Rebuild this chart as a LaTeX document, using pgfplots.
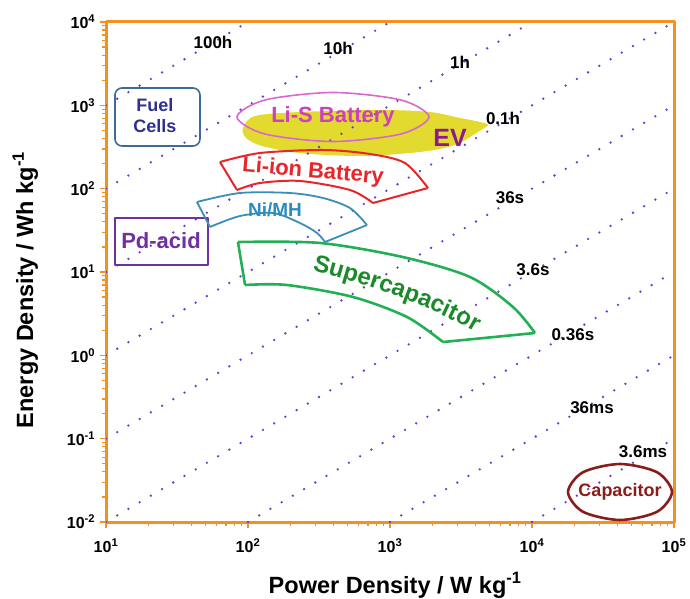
\documentclass[border=0pt]{standalone}
\usepackage{pgfplots}
\pgfplotsset{compat=1.18}
\usetikzlibrary{decorations.text}
\usepackage{fontspec}
\setmainfont{Liberation Sans}
\definecolor{axorange}{HTML}{F39020}
\definecolor{dotc}{HTML}{6A3CCC}
\definecolor{fuelc}{HTML}{3D6A9A}
\definecolor{fueltxt}{HTML}{2E3192}
\definecolor{lisc}{HTML}{D868D0}
\definecolor{listxt}{HTML}{CC3FC0}
\definecolor{evc}{HTML}{E2DA2E}
\definecolor{evtxt}{HTML}{8E1B8E}
\definecolor{lionc}{HTML}{E8262A}
\definecolor{nimhc}{HTML}{3A8EB8}
\definecolor{nimhtxt}{HTML}{2C8CC0}
\definecolor{supc}{HTML}{22B055}
\definecolor{suptxt}{HTML}{1A8A2A}
\definecolor{pdc}{HTML}{7030A0}
\definecolor{capc}{HTML}{8B1C1C}
\newcommand{\fs}[1]{\fontsize{#1}{#1}\selectfont\bfseries}
\begin{document}
\begin{tikzpicture}
\begin{axis}[
  scale only axis, width=568pt, height=500pt,
  xmode=log, ymode=log,
  xmin=10, xmax=100000, ymin=0.01, ymax=10000,
  every axis/.append style={line width=3pt},
  axis line style={axorange, line width=3pt},
  tick pos=left, tick align=outside,
  major tick length=6pt, minor tick length=4pt,
  every major tick/.style={axorange, line width=1.6pt},
  every minor tick/.style={axorange, line width=1.2pt},
  xtick={10,100,1000,10000,100000},
  xticklabels={10\textsuperscript{1},10\textsuperscript{2},10\textsuperscript{3},10\textsuperscript{4},10\textsuperscript{5}},
  ytick={0.01,0.1,1,10,100,1000,10000},
  yticklabels={10\textsuperscript{-2},10\textsuperscript{-1},10\textsuperscript{0},10\textsuperscript{1},10\textsuperscript{2},10\textsuperscript{3},10\textsuperscript{4}},
  minor xtick={20,30,40,50,60,70,80,90,200,300,400,500,600,700,800,900,2000,3000,4000,5000,6000,7000,8000,9000,20000,30000,40000,50000,60000,70000,80000,90000},
  minor ytick={0.02,0.03,0.04,0.05,0.06,0.07,0.08,0.09,0.2,0.3,0.4,0.5,0.6,0.7,0.8,0.9,2,3,4,5,6,7,8,9,20,30,40,50,60,70,80,90,200,300,400,500,600,700,800,900,2000,3000,4000,5000,6000,7000,8000,9000},
  ticklabel style={font=\fs{16}},
  xticklabel style={yshift=-6pt},
  xlabel={Power Density / W kg\textsuperscript{-1}},
  ylabel={Energy Density / Wh kg\textsuperscript{-1}},
  label style={font=\fs{23.5}},
  xlabel style={at={(axis description cs:0.509,-0.142)}, anchor=base},
  ylabel style={at={(axis description cs:-0.1285,0.464)}, anchor=base},
  line join=round,
]
% EV region
\addplot[fill=evc, draw=none, smooth cycle] coordinates {(92.2,534.6) (112.0,744.7) (232.4,831.8) (850.4,879) (1912,831.8) (3112,704.7) (4303,631) (4899,580.8) (4166,478.6) (2869,334.2) (1627,275.4) (614.9,246.6) (232.4,267.9) (125.5,325.1) (96.8,405.5)};
% constant-time lines
\addplot[dotc, line width=2.6pt, line cap=round, dash pattern=on 0pt off 13pt] coordinates {(10,1000) (100,10000)};
\addplot[dotc, line width=2.6pt, line cap=round, dash pattern=on 0pt off 13pt] coordinates {(10,100) (1000,10000)};
\addplot[dotc, line width=2.6pt, line cap=round, dash pattern=on 0pt off 13pt] coordinates {(10,10) (10000,10000)};
\addplot[dotc, line width=2.6pt, line cap=round, dash pattern=on 0pt off 13pt] coordinates {(10,1) (100000,10000)};
\addplot[dotc, line width=2.6pt, line cap=round, dash pattern=on 0pt off 13pt] coordinates {(10,0.1) (100000,1000)};
\addplot[dotc, line width=2.6pt, line cap=round, dash pattern=on 0pt off 13pt] coordinates {(10,0.01) (100000,100)};
\addplot[dotc, line width=2.6pt, line cap=round, dash pattern=on 0pt off 13pt] coordinates {(100,0.01) (100000,10)};
\addplot[dotc, line width=2.6pt, line cap=round, dash pattern=on 0pt off 13pt] coordinates {(1000,0.01) (100000,1)};
\addplot[dotc, line width=2.6pt, line cap=round, dash pattern=on 0pt off 13pt] coordinates {(10000,0.01) (100000,0.1)};
% Fuel cells
\addplot[draw=fuelc, line width=1.6pt, rounded corners=7pt] coordinates {(11.57,1614) (45.9,1614) (45.9,325) (11.57,325)} -- cycle;
% Pd-acid
\addplot[draw=pdc, line width=2.6pt] coordinates {(11.57,44.46) (52.28,44.46) (52.28,12.13) (11.57,12.13)} -- cycle;
% Li-S ellipse
\addplot[draw=lisc, line width=1.6pt, smooth cycle] coordinates {(1882,724.4) (1195,1159) (396.9,1426) (131.7,1159) (83.6,724.4) (131.7,452.9) (396.9,368.1) (1195,452.9)};
% Li-ion
\addplot[draw=lionc, line width=2pt, smooth] coordinates {(63.5,208.9) (121.5,267.9) (337.5,291.1) (723.1,260.6) (1275,203.2) (1851,101.9)};
\addplot[draw=lionc, line width=2pt] coordinates {(1851,101.9) (759.2,67.3)};
\addplot[draw=lionc, line width=2pt, smooth] coordinates {(759.2,67.3) (522.8,96.4) (232.4,123.6) (121.5,117.0) (83.6,96.4)};
\addplot[draw=lionc, line width=2pt] coordinates {(83.6,96.4) (63.5,208.9)};
% Ni/MH
\addplot[draw=nimhc, line width=1.8pt, smooth] coordinates {(43.7,69.2) (87.8,88.7) (197.6,88.7) (337.5,77.3) (522.8,58.6) (688.7,36.6)};
\addplot[draw=nimhc, line width=1.8pt] coordinates {(688.7,36.6) (348.6,22.9)};
\addplot[draw=nimhc, line width=1.8pt, smooth] coordinates {(348.6,22.9) (306.1,29.4) (232.4,38.7) (150.0,51.05) (87.8,47.0) (54.0,34.7)};
\addplot[draw=nimhc, line width=1.8pt] coordinates {(54.0,34.7) (43.7,69.2)};
% Supercapacitor
\addplot[draw=supc, line width=2.6pt, smooth] coordinates {(85.0,22.9) (321.4,22.3) (1235,15.1) (3659,8.71) (7348,3.80) (10498,1.854)};
\addplot[draw=supc, line width=2.6pt] coordinates {(10498,1.854) (2361,1.445)};
\addplot[draw=supc, line width=2.6pt, smooth] coordinates {(2361,1.445) (1317,2.884) (548.8,5.012) (188.2,6.982) (95.3,6.982)};
\addplot[draw=supc, line width=2.6pt] coordinates {(95.3,6.982) (85.0,22.9)};
% Capacitor ellipse
\addplot[draw=capc, line width=2.6pt, smooth cycle] coordinates {(96800,0.02291) (75920,0.03958) (41660,0.04966) (22870,0.03958) (17930,0.02291) (22870,0.01326) (41660,0.01057) (75920,0.01326)};
% region labels
\node[font=\fs{18}, text=fueltxt, align=center] at (axis cs:22.1,745) {Fuel\\[3pt]Cells};
\node[font=\fs{22}, text=pdc] at (axis cs:24.4,23.55) {Pd-acid};
\node[font=\fs{22}, text=listxt] at (axis cs:396.9,724.4) {Li-S Battery};
\node[font=\fs{25}, text=evtxt] at (axis cs:2646,405.5) {EV};
\node[font=\fs{22}, text=lionc, rotate=-5] at (axis cs:286.9,158.5) {Li-ion Battery};
\node[font=\fs{19}, text=nimhtxt] at (axis cs:154.9,55.5) {Ni/MH};
\coordinate (sc1) at (axis cs:214.3,11.80);
\coordinate (sc2) at (axis cs:614.9,7.586);
\coordinate (sc3) at (axis cs:2250,3.802);
\coordinate (sc4) at (axis cs:5061,1.445);
\node[font=\fs{18}, text=capc] at (axis cs:41660,0.02291) {Capacitor};
% time labels
\node[font=\fs{17}] at (axis cs:56.7,5754) {100h};
\node[font=\fs{17}] at (axis cs:430.3,4875) {10h};
\node[font=\fs{17}] at (axis cs:3112,3311) {1h};
\node[font=\fs{17}] at (axis cs:6249,704.7) {0.1h};
\node[font=\fs{17}] at (axis cs:7000,77.3) {36s};
\node[font=\fs{17}] at (axis cs:10160,10.57) {3.6s};
\node[font=\fs{17}] at (axis cs:19440,1.754) {0.36s};
\node[font=\fs{17}] at (axis cs:26460,0.2333) {36ms};
\node[font=\fs{17}] at (axis cs:60500,0.06918) {3.6ms};
\end{axis}
\path[decorate, decoration={text along path, text align=center, text={|\fs{24}\color{suptxt}|Supercapacitor}}]
  (sc1) .. controls (sc2) and (sc3) .. (sc4);
\pgfresetboundingbox
\path ([shift={(-106pt,-77pt)}]current axis.south west) rectangle ([shift={(16pt,22pt)}]current axis.north east);
\end{tikzpicture}
\end{document}
